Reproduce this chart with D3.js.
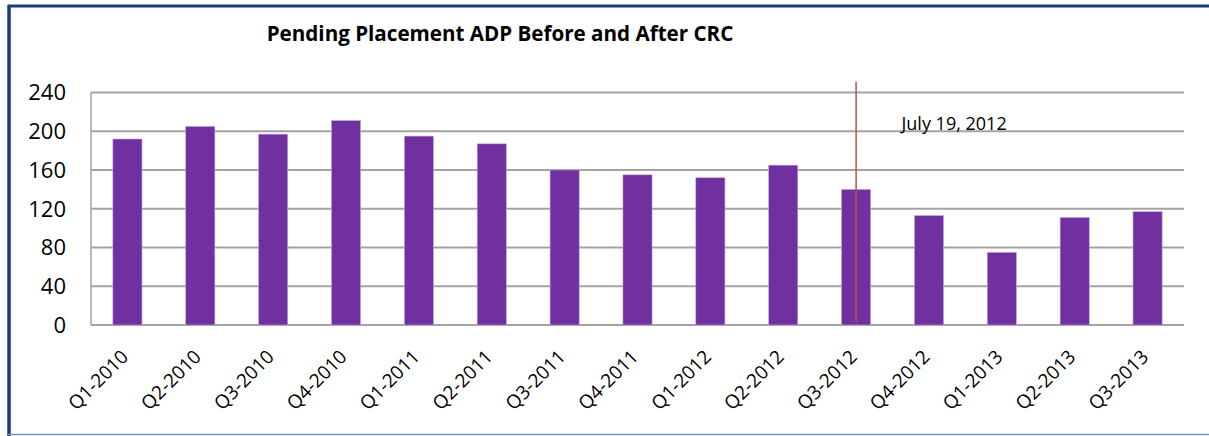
<!DOCTYPE html>
<html>
<head>
<meta charset="utf-8">
<script src="https://cdn.jsdelivr.net/npm/d3@7"></script>
<style>
  body { margin: 0; background: #fff; }
  svg { display: block; font-family: "Open Sans", sans-serif; }
</style>
</head>
<body>
<div id="chart"></div>
<script>
var quarters = ["Q1-2010", "Q2-2010", "Q3-2010", "Q4-2010", "Q1-2011", "Q2-2011",
    "Q3-2011", "Q4-2011", "Q1-2012", "Q2-2012", "Q3-2012", "Q4-2012",
    "Q1-2013", "Q2-2013", "Q3-2013"];
var adp = [192, 205, 197, 211, 195, 187, 160, 155, 152, 165, 140, 113, 75, 111, 117];
var yTicks = [0, 40, 80, 120, 160, 200, 240];
var marker = { quarter: "Q3-2012", label: "July 19, 2012" };

var W = 1209, H = 436;
var margin = { top: 92.5, right: 25, bottom: 111, left: 91 },
    width = W - margin.left - margin.right,
    height = H - margin.top - margin.bottom;

var svg = d3.select("#chart").append("svg")
    .attr("width", W)
    .attr("height", H);

// frame lines of the slide box
svg.append("line").attr("x1", 8).attr("x2", W).attr("y1", 6).attr("y2", 6)
    .attr("stroke", "#1f3a78").attr("stroke-width", 3);
svg.append("line").attr("x1", 9).attr("x2", 9).attr("y1", 5).attr("y2", H)
    .attr("stroke", "#1f3a78").attr("stroke-width", 3.5);
svg.append("line").attr("x1", 8).attr("x2", W).attr("y1", 434.5).attr("y2", 434.5)
    .attr("stroke", "#8090aa").attr("stroke-width", 1.5);

svg.append("text")
    .attr("x", 500)
    .attr("y", 40.5)
    .attr("text-anchor", "middle")
    .attr("font-size", 20.6)
    .attr("font-weight", "bold")
    .attr("fill", "#000")
    .text("Pending Placement ADP Before and After CRC");

var g = svg.append("g")
    .attr("transform", "translate(" + margin.left + "," + margin.top + ")");

var X = d3.scaleBand()
    .domain(quarters)
    .range([0, width])
    .paddingInner(0.6)
    .paddingOuter(0.3);

var Y = d3.scaleLinear()
    .domain([0, 240])
    .range([height, 0]);

// gridlines
g.selectAll(".grid")
    .data(yTicks)
    .enter().append("line")
    .attr("x1", 0)
    .attr("x2", width)
    .attr("y1", function(d) { return Y(d); })
    .attr("y2", function(d) { return Y(d); })
    .attr("stroke", "#a3a3a3")
    .attr("stroke-width", 2);

g.append("line")
    .attr("x1", 0).attr("x2", 0)
    .attr("y1", 0).attr("y2", height)
    .attr("stroke", "#a3a3a3")
    .attr("stroke-width", 1.5);

// y tick labels
g.selectAll(".ytick")
    .data(yTicks)
    .enter().append("text")
    .attr("x", -25)
    .attr("y", function(d) { return Y(d); })
    .attr("dy", "0.36em")
    .attr("text-anchor", "end")
    .attr("font-size", 22)
    .attr("fill", "#000")
    .text(function(d) { return d; });

g.selectAll(".bar")
    .data(adp)
    .enter().append("rect")
    .attr("x", function(d, i) { return X(quarters[i]); })
    .attr("width", X.bandwidth())
    .attr("y", function(d) { return Y(d); })
    .attr("height", function(d) { return height - Y(d); })
    .attr("fill", "#7030a0")
    .attr("stroke", "#c6a9dc")
    .attr("stroke-width", 0.6);

// x labels, rotated
g.selectAll(".xlab")
    .data(quarters)
    .enter().append("text")
    .attr("transform", function(d) {
        var cx = X(d) + X.bandwidth() / 2 + 2;
        return "translate(" + cx + "," + (height + 33) + ") rotate(-45)";
    })
    .attr("text-anchor", "end")
    .attr("font-size", 19)
    .attr("fill", "#000")
    .text(function(d) { return d; });

// date marker
var mx = X(marker.quarter) + X.bandwidth() / 2;
g.append("line")
    .attr("x1", mx).attr("x2", mx)
    .attr("y1", Y(251)).attr("y2", Y(3))
    .attr("stroke", "#c0504d")
    .attr("stroke-width", 1.5);

g.append("text")
    .attr("x", mx + 98)
    .attr("y", Y(201))
    .attr("text-anchor", "middle")
    .attr("font-size", 18)
    .attr("fill", "#000")
    .text(marker.label);
</script>
</body>
</html>
